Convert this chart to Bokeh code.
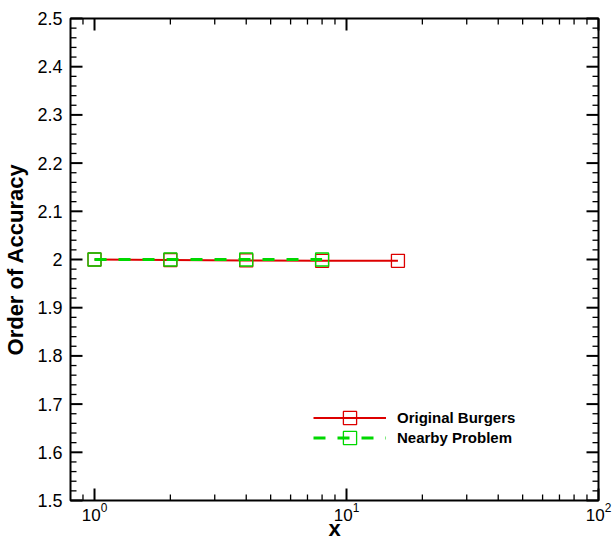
import math
from bokeh.plotting import figure
from bokeh.models import FixedTicker, LogTicker, Legend, CustomJSTickFormatter, Range1d
from bokeh.embed import file_html
from bokeh.resources import INLINE

# ---- data ----
x_orig = [1, 2, 4, 8, 16]
y_orig = [2.0, 1.999, 1.998, 1.9973, 1.9973]
x_near = [1, 2, 4, 8]
y_near = [2.0, 2.0, 2.0, 2.0]
names = ["Original Burgers", "Nearby Problem"]
x_label = "x"
y_label = "Order of Accuracy"

# ---- axis ranges and ticks ----
x_lo, x_hi = 0.803, 100
y_lo, y_hi = 1.5, 2.5
x_major_ticks = [1, 10, 100]
x_minor_ticks = [0.9, 2, 3, 4, 5, 6, 7, 8, 9, 20, 30, 40, 50, 60, 70, 80, 90]
y_ticks = [1.5, 1.6, 1.7, 1.8, 1.9, 2.0, 2.1, 2.2, 2.3, 2.4, 2.5]
y_minor_ticks = [1.52, 1.54, 1.56, 1.58, 1.62, 1.64, 1.66, 1.68, 1.72, 1.74, 1.76, 1.78,
                 1.82, 1.84, 1.86, 1.88, 1.92, 1.94, 1.96, 1.98, 2.02, 2.04, 2.06, 2.08,
                 2.12, 2.14, 2.16, 2.18, 2.22, 2.24, 2.26, 2.28, 2.32, 2.34, 2.36, 2.38,
                 2.42, 2.44, 2.46, 2.48]

RED = "#dd0000"
GREEN = "#00d800"
FONT = "Liberation Sans"

p = figure(width=612, height=543, x_axis_type="log", output_backend="svg",
           toolbar_location=None, x_range=Range1d(x_lo, x_hi), y_range=Range1d(y_lo, y_hi),
           min_border_left=63, min_border_right=14, min_border_top=18, min_border_bottom=40)
p.grid.visible = False
p.outline_line_color = "black"
p.outline_line_width = 2
p.border_fill_color = None
p.background_fill_color = None

# ---- inward ticks on all four sides, drawn as rays of fixed screen length ----
MAJ, MIN = 12, 6
for yy, ang in ((y_lo, math.pi / 2), (y_hi, -math.pi / 2)):
    p.ray(x_major_ticks, [yy] * len(x_major_ticks), length=MAJ, length_units="screen",
          angle=ang, line_color="black", line_width=2, level="overlay")
    p.ray(x_minor_ticks, [yy] * len(x_minor_ticks), length=MIN, length_units="screen",
          angle=ang, line_color="black", line_width=1.3, level="overlay")
for xx, ang in ((x_lo, 0.0), (x_hi, math.pi)):
    p.ray([xx] * len(y_ticks), y_ticks, length=MAJ, length_units="screen",
          angle=ang, line_color="black", line_width=2, level="overlay")
    p.ray([xx] * len(y_minor_ticks), y_minor_ticks, length=MIN, length_units="screen",
          angle=ang, line_color="black", line_width=1.3, level="overlay")

# ---- series ----
l1 = p.line(x_orig, y_orig, line_color=RED, line_width=2)
s1 = p.scatter(x_orig, y_orig, marker="square", size=13, fill_color=None,
               line_color=RED, line_width=1.3)
l2 = p.line(x_near, y_near, line_color=GREEN, line_width=2.8, line_dash="12 12")
s2 = p.scatter(x_near, y_near, marker="square", size=13, fill_color=None,
               line_color=GREEN, line_width=1.3)

def style(ax):
    ax.axis_line_color = None
    ax.major_tick_line_color = None
    ax.minor_tick_line_color = None
    ax.major_tick_in = 0
    ax.major_tick_out = 0
    ax.minor_tick_in = 0
    ax.minor_tick_out = 0
    ax.major_label_text_font = FONT
    ax.major_label_text_color = "black"
    ax.axis_label_text_font = FONT
    ax.axis_label_text_font_style = "bold"
    ax.axis_label_text_font_size = "22px"
    ax.axis_label_text_color = "black"

xa = p.xaxis[0]
style(xa)
xa.ticker = LogTicker(num_minor_ticks=10)
xa.axis_label = x_label
xa.major_label_text_font_size = "17px"
xa.major_label_standoff = 2
xa.axis_label_standoff = -8

ya = p.yaxis[0]
style(ya)
ya.ticker = FixedTicker(ticks=y_ticks)
ya.formatter = CustomJSTickFormatter(code="return String(Math.round(tick*10)/10)")
ya.axis_label = y_label
ya.major_label_text_font_size = "18px"
ya.major_label_standoff = 8
ya.axis_label_standoff = 6

def make_legend(item, y):
    lg = Legend(items=[item], location=(243, y), orientation="vertical")
    lg.border_line_color = None
    lg.background_fill_color = None
    lg.label_text_font = FONT
    lg.label_text_font_style = "bold"
    lg.label_text_font_size = "15px"
    lg.label_text_color = "black"
    lg.glyph_width = 73
    lg.glyph_height = 33
    lg.label_height = 20
    lg.label_standoff = 11
    lg.padding = 0
    lg.margin = 0
    lg.spacing = 0
    return lg

p.add_layout(make_legend((names[0], [l1, s1]), 66), "center")
p.add_layout(make_legend((names[1], [l2, s2]), 46), "center")

open("out.html", "w").write(file_html(p, INLINE))
